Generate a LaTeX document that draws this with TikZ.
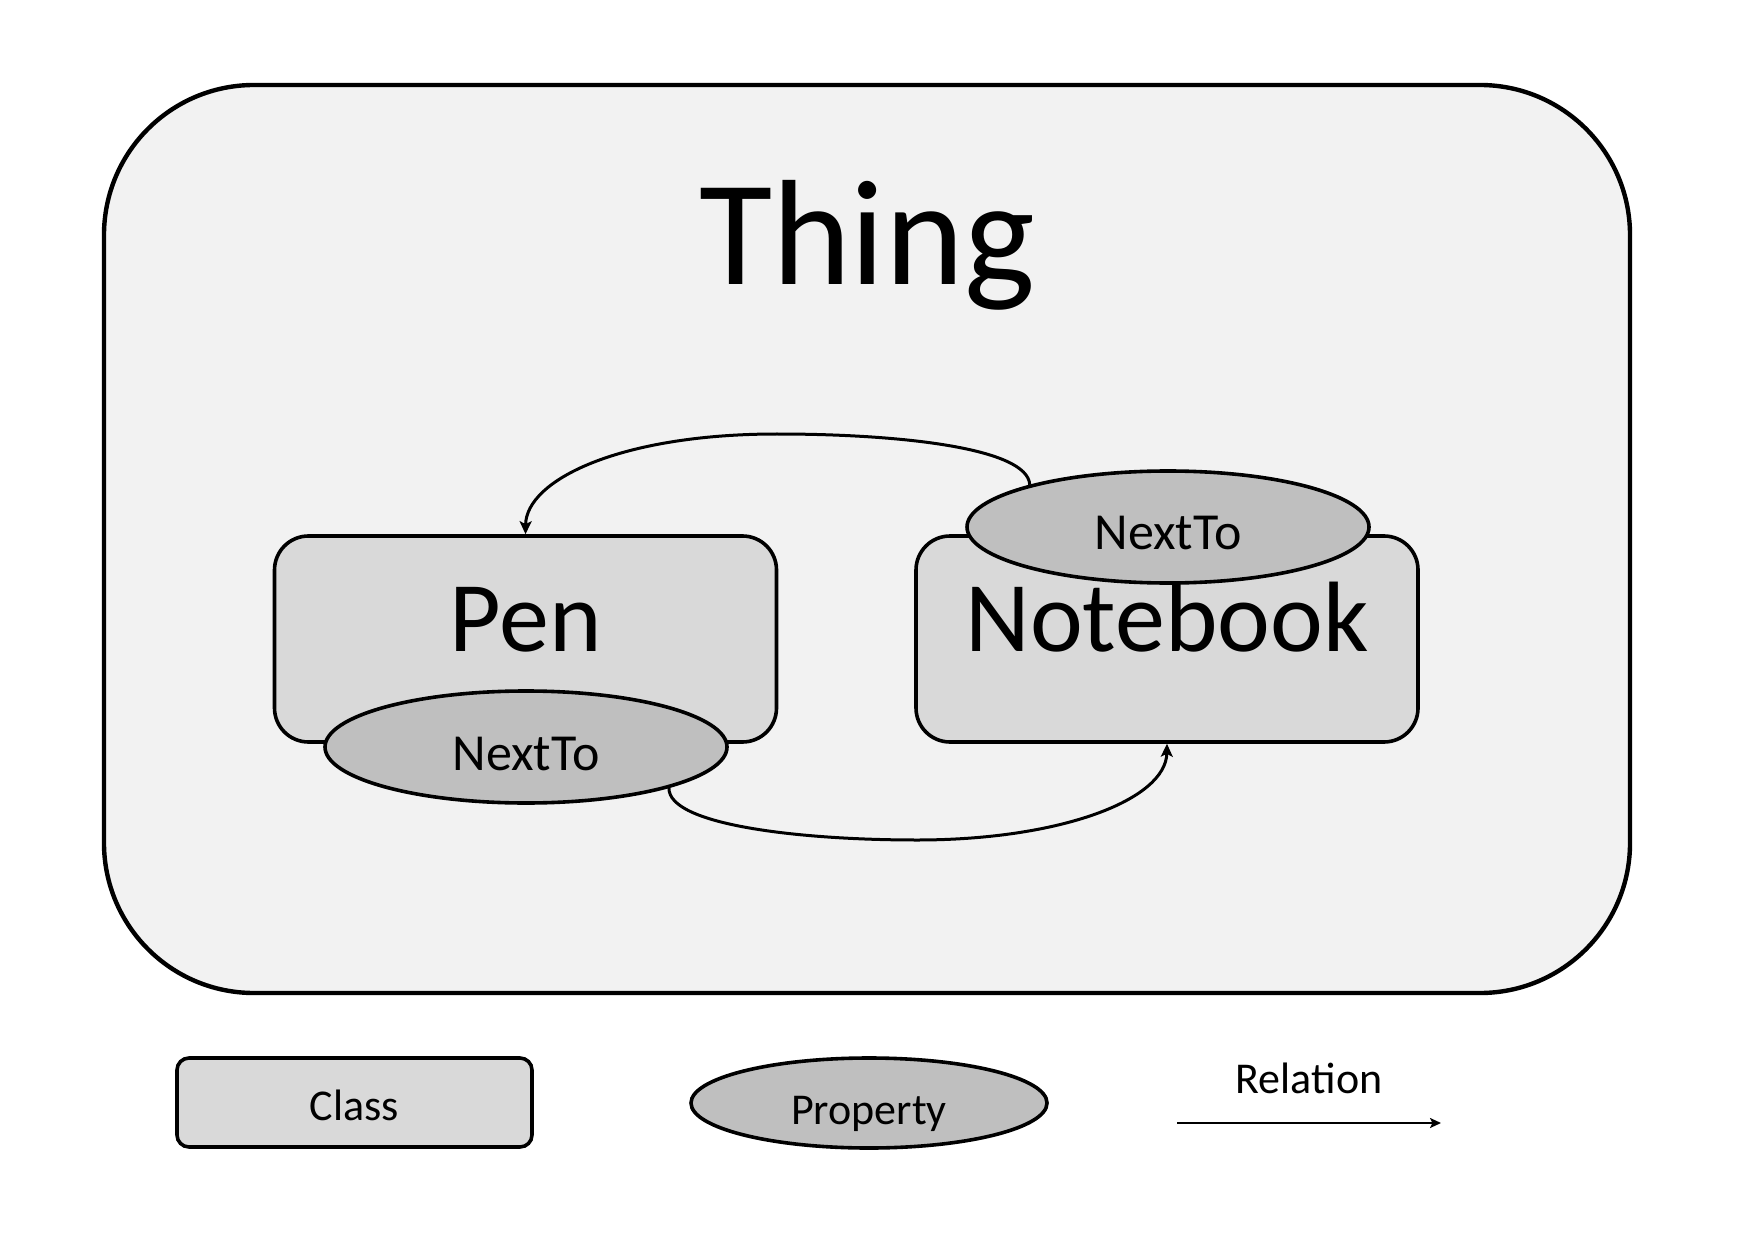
\documentclass[tikz,border=0pt]{standalone}
\usepackage{fontspec}
\setmainfont{Carlito}
\usetikzlibrary{shapes.geometric,arrows.meta}
\definecolor{thingfill}{HTML}{F2F2F2}
\definecolor{classfill}{HTML}{D9D9D9}
\definecolor{propfill}{HTML}{BFBFBF}
\begin{document}
\begin{tikzpicture}[x=0.5pt,y=-0.5pt,
  thingbox/.style={draw,line width=2.2pt,fill=thingfill,rounded corners=75pt,inner sep=0pt,minimum width=763pt,minimum height=454pt},
  classbox/.style={draw,line width=1.8pt,fill=classfill,rounded corners=17pt,inner sep=0pt,minimum width=251pt,minimum height=103pt},
  legclass/.style={draw,line width=1.8pt,fill=classfill,rounded corners=6pt,inner sep=0pt,minimum width=177.5pt,minimum height=44.5pt},
  propell/.style={draw,line width=1.8pt,fill=propfill,ellipse,inner sep=0pt,minimum width=201pt,minimum height=56pt},
  legprop/.style={draw,line width=1.8pt,fill=propfill,ellipse,inner sep=0pt,minimum width=178pt,minimum height=45pt},
  txt/.style={anchor=base,inner sep=0pt},
  rel/.style={line width=1.5pt,-{Stealth[length=6.5pt,width=6pt,inset=1.5pt]}}
]
\useasboundingbox[fill=white] (0,0) rectangle (1754,1240);
% Thing container
\node[thingbox] (thing) at (867,539) {};
\node[txt,font=\fontsize{75}{80}\selectfont] (thingtxt) at (867,285) {Thing};
% classes
\node[classbox] (pen) at (525.5,639) {};
\node[classbox] (notebook) at (1167,639) {};
\node[txt,font=\fontsize{50}{55}\selectfont] (pentxt) at (525.5,651) {Pen};
\node[txt,font=\fontsize{50}{55}\selectfont] (nbtxt) at (1167,651) {Notebook};
% properties
\node[propell] (penprop) at (526,747) {};
\node[txt,font=\fontsize{26}{30}\selectfont] (penproptxt) at (526,770) {NextTo};
\node[propell] (nbprop) at (1168,527) {};
\node[txt,font=\fontsize{26}{30}\selectfont] (nbproptxt) at (1168,549) {NextTo};
% relations
\draw[rel] (nbprop.163) .. controls (1028,448) and (900,434) .. (777,434)
  .. controls (620,434) and (526,480) .. (pen.north);
\draw[rel] (penprop.-16) .. controls (668,825) and (800,840) .. (917,840)
  .. controls (1060,840) and (1166,800) .. (notebook.south);
% legend
\node[legclass] (legc) at (354.5,1102.5) {};
\node[txt,font=\fontsize{22}{26}\selectfont] (legctxt) at (354.5,1120) {Class};
\node[legprop] (legp) at (869,1103) {};
\node[txt,font=\fontsize{22}{26}\selectfont] (legptxt) at (869,1124) {Property};
\node[txt,font=\fontsize{22}{26}\selectfont] (legrtxt) at (1309,1093) {Relation};
\coordinate (legra) at (1177,1123);
\coordinate (legrb) at (1441,1123);
\draw[line width=1.4pt,-{Stealth[length=5.5pt,width=5pt,inset=1.2pt]}] (legra) -- (legrb);
\end{tikzpicture}
\end{document}
